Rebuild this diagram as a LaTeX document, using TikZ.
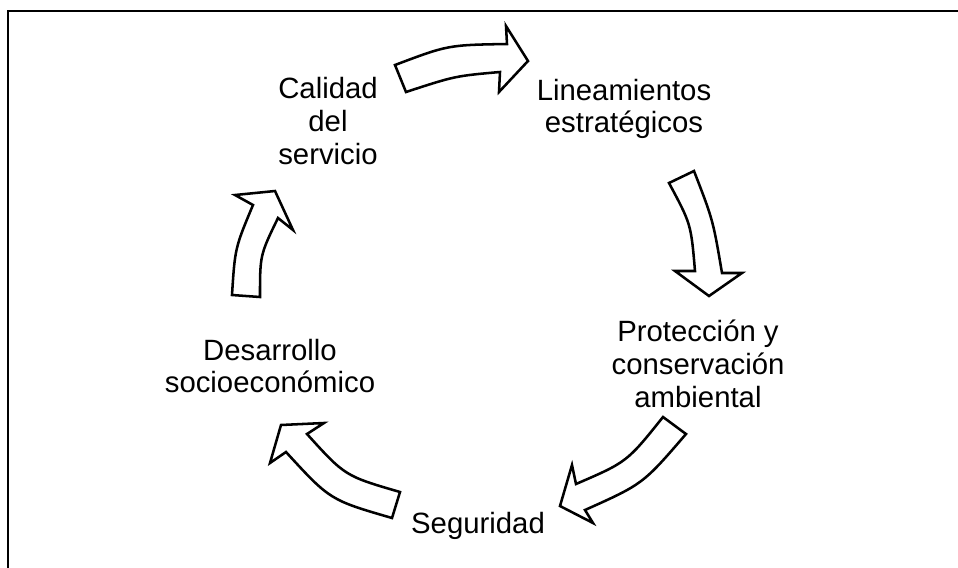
\documentclass[tikz,border=0pt]{standalone}
\usepackage{fontspec}
\setmainfont{Liberation Sans}
\usetikzlibrary{positioning}

\begin{document}
\begin{tikzpicture}[x=0.75pt,y=-0.75pt,
		label/.style={align=center,inner sep=0pt,font=\fontsize{22}{24.6}\selectfont},
		blockarrow/.style={draw=black,fill=white,line width=1.9pt,line join=miter}]
		\useasboundingbox (0,0) rectangle (958,568);
		\draw[line width=2.2pt] (8,568) -- (8,11) -- (958,11);

		\node[label]	(calidad)		at (328,121)	{Calidad\\del\\servicio};
		\node[label]	(lineamientos)	at (624,109)	{Lineamientos\\estratégicos};
		\node[label]	(proteccion)	at (698,364)	{Protección y\\conservación\\ambiental};
		\node[label]	(seguridad)		at (478,526)	{Seguridad};
		\node[label]	(desarrollo)	at (270,366)	{Desarrollo\\socioeconómico};

		% calidad -> lineamientos
		\draw[blockarrow] (395,65) .. controls (448,45) .. (507,44) -- (506,26) -- (528,61) -- (499,92) -- (500,72) .. controls (455,76) .. (406,92) -- cycle;
		% lineamientos -> proteccion
		\draw[blockarrow] (694,171) .. controls (713,220) .. (722,273) -- (742,273) -- (709,296) -- (675,271) -- (695,271) .. controls (691,224) .. (669,183) -- cycle;
		% proteccion -> seguridad
		\draw[blockarrow] (686,434) .. controls (643,484) .. (585,510) -- (593,523) -- (560,506) -- (572,465) -- (576,484) .. controls (627,462) .. (663,417) -- cycle;
		% seguridad -> desarrollo
		\draw[blockarrow] (392,518) .. controls (330,500) .. (286,452) -- (270,463) -- (281,425) -- (324,423) -- (307,434) .. controls (345,476) .. (400,492) -- cycle;
		% desarrollo -> calidad
		\draw[blockarrow] (260,297) .. controls (260,255) .. (278,218) -- (293,230) -- (275,191) -- (235,195) -- (253,205) .. controls (235,248) .. (232,295) -- cycle;
	\end{tikzpicture}
\end{document}
